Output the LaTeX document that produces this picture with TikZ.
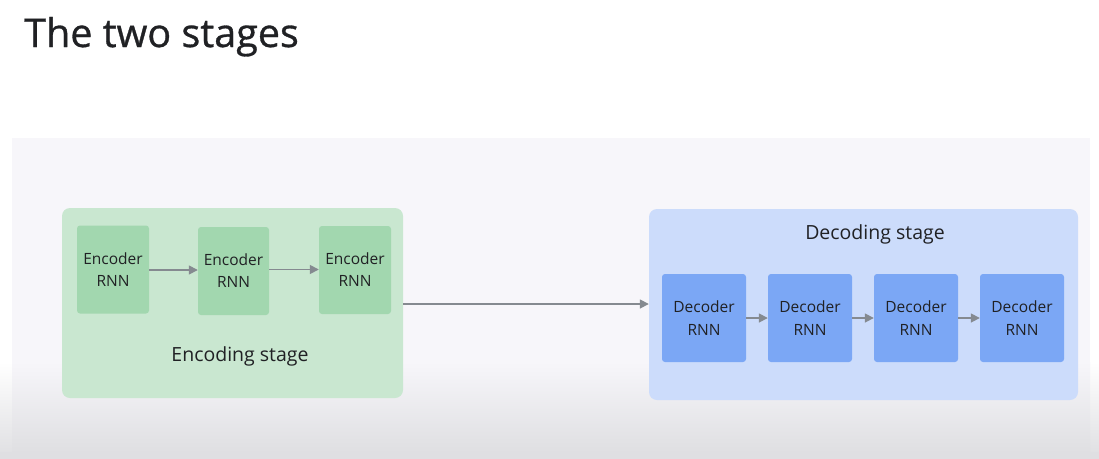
\documentclass[tikz,border=0pt]{standalone}
\usepackage{fontspec}
\setmainfont{Open Sans}
\newfontfamily\titlefont[FakeBold=0.8]{Open Sans}
\usetikzlibrary{arrows.meta}
\definecolor{panel}{HTML}{F7F6FA}
\definecolor{shadow}{HTML}{DFDFE2}
\definecolor{gout}{HTML}{C9E7D0}
\definecolor{gin}{HTML}{A2D7AF}
\definecolor{bout}{HTML}{CCDCFB}
\definecolor{bin}{HTML}{7BA7F5}
\definecolor{arrgray}{HTML}{858A90}
\definecolor{txt}{HTML}{202124}
\begin{document}
\begin{tikzpicture}[x=1pt,y=-1pt,
  stagebox/.style={rounded corners=8pt, draw=none},
  encbox/.style={rectangle, rounded corners=3pt, fill=gin, minimum width=72pt, minimum height=88pt, inner sep=0pt, align=center, text=txt, font=\fontsize{15.5}{22}\selectfont},
  decbox/.style={rectangle, rounded corners=3pt, fill=bin, minimum width=84pt, minimum height=88pt, inner sep=0pt, align=center, text=txt, font=\fontsize{15.5}{23}\selectfont},
  arr/.style={draw=arrgray, line width=1.6pt, -{Triangle[length=9pt,width=9pt]}},
  stagelabel/.style={text=txt, font=\fontsize{19.5}{23}\selectfont}
]
\useasboundingbox (0,0) rectangle (1099,458);
\fill[white] (0,0) rectangle (1099,458);
\shade[top color=white, bottom color=shadow] (0,362) rectangle (1099,458);
\fill[panel] (12,138) rectangle (1090,362);
\shade[top color=panel, bottom color=shadow] (12,362) rectangle (1090,452);
\fill[shadow] (0,452) rectangle (1099,458);

\node[anchor=base west, text=txt, font=\titlefont\fontsize{39.5}{44}\selectfont, inner sep=0pt] (title) at (24,47) {The two stages};

% encoding stage
\node[stagebox, fill=gout, minimum width=341pt, minimum height=190pt, inner sep=0pt] (encstage) at (232.5,303) {};
\node[encbox] (e1) at (113,269.5) {Encoder\\RNN};
\node[encbox, minimum width=71pt] (e2) at (233.5,271) {Encoder\\RNN};
\node[encbox] (e3) at (355,270) {Encoder\\RNN};
\node[stagelabel] (enclabel) at (240,356) {Encoding stage};

\draw[arr] (e1.east |- 0,270) -- (e2.west |- 0,270);
\draw[arr] (e2.east |- 0,269.5) -- (e3.west |- 0,269.5);

% decoding stage
\node[stagebox, fill=bout, minimum width=429pt, minimum height=191pt, inner sep=0pt] (decstage) at (863.5,304.5) {};
\node[stagelabel] (declabel) at (875,234) {Decoding stage};
\node[decbox] (d1) at (704,318) {Decoder\\RNN};
\node[decbox] (d2) at (810,318) {Decoder\\RNN};
\node[decbox] (d3) at (916,318) {Decoder\\RNN};
\node[decbox] (d4) at (1022,318) {Decoder\\RNN};

\draw[arr] (d1) -- (d2);
\draw[arr] (d2) -- (d3);
\draw[arr] (d3) -- (d4);

\draw[arr] (encstage.east |- 0,304) -- (decstage.west |- 0,304);
\end{tikzpicture}
\end{document}
